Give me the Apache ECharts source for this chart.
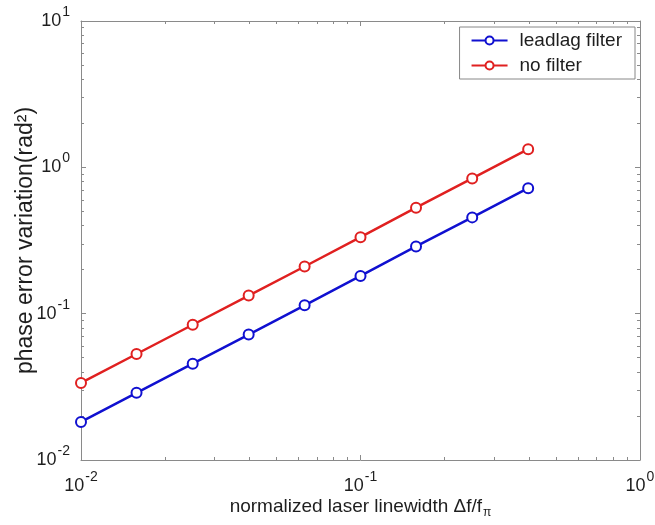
<!DOCTYPE html>
<html>
<head>
<meta charset="utf-8">
<script src="https://cdn.jsdelivr.net/npm/echarts@6/dist/echarts.min.js"></script>
<style>
  html, body { margin: 0; padding: 0; background: #fff; }
  #chart { width: 655px; height: 525px; }
</style>
</head>
<body>
<div id="chart"></div>
<script>
// Normalized laser linewidth (x) and phase error variation (y), log-log
const linewidth = [0.01, 0.0158, 0.0251, 0.0398, 0.0631, 0.1, 0.158, 0.251, 0.398];
const leadlagFilter = [0.0182, 0.0288, 0.0455, 0.072, 0.114, 0.181, 0.288, 0.455, 0.72];
const noFilter = [0.0336, 0.053, 0.084, 0.133, 0.21, 0.333, 0.53, 0.84, 1.33];
const seriesNames = ['leadlag filter', 'no filter'];

const FONT = '"Liberation Sans", Arial, Helvetica, sans-serif';
const AXIS_COLOR = '#8a8a8a';
const TEXT_COLOR = '#1e1e1e';

// Decade labels written as 10 with a raised exponent
function pow10Label(value) {
  const e = Math.round(Math.log10(value));
  return '{b|10}{s|' + e + '}';
}
const powRich = {
  b: { fontSize: 18, fontFamily: FONT, color: TEXT_COLOR },
  s: { fontSize: 14, fontFamily: FONT, color: TEXT_COLOR, verticalAlign: 'top', padding: [0, 0, 18, 1] }
};

const chart = echarts.init(document.getElementById('chart'));

function pairs(xs, ys) { return xs.map((x, i) => [x, ys[i]]); }

const axisCommon = {
  type: 'log',
  logBase: 10,
  axisLine: { show: true, lineStyle: { color: AXIS_COLOR, width: 1 } },
  axisTick: { show: true, inside: true, length: 5, lineStyle: { color: AXIS_COLOR } },
  minorTick: { show: true, splitNumber: 9, length: 3, lineStyle: { color: AXIS_COLOR } },
  splitLine: { show: false },
  minorSplitLine: { show: false }
};

chart.setOption({
  animation: false,
  backgroundColor: '#fff',
  grid: { left: 81, right: 15, top: 21, bottom: 65, containLabel: false, outerBoundsMode: 'none' },
  xAxis: [
    Object.assign({}, axisCommon, {
      min: 0.01, max: 1, position: 'bottom',
      axisLabel: { formatter: pow10Label, rich: powRich, margin: 10 },
      name: '{a|normalized laser linewidth Δf/f}{s|π}',
      nameLocation: 'middle', nameGap: 35, nameMoveOverlap: false,
      nameTextStyle: {
        rich: {
          a: { fontSize: 19, fontFamily: FONT, color: TEXT_COLOR },
          s: { fontSize: 12, fontFamily: FONT, color: TEXT_COLOR, verticalAlign: 'bottom', padding: [12, 0, 0, 1] }
        }
      }
    }),
    Object.assign({}, axisCommon, {
      min: 0.01, max: 1, position: 'top',
      axisLabel: { show: false }
    })
  ],
  yAxis: [
    Object.assign({}, axisCommon, {
      min: 0.01, max: 10, position: 'left',
      axisLabel: { formatter: pow10Label, rich: powRich, margin: 11 },
      name: 'phase error variation(rad²)',
      nameLocation: 'middle', nameGap: 44, nameRotate: 90, nameMoveOverlap: false,
      nameTextStyle: { fontSize: 23, fontFamily: FONT, color: TEXT_COLOR }
    }),
    Object.assign({}, axisCommon, {
      min: 0.01, max: 10, position: 'right',
      axisLabel: { show: false }
    })
  ],
  legend: {
    data: seriesNames,
    orient: 'vertical',
    right: 20, top: 27,
    padding: [4, 13, 4, 11],
    itemGap: 6,
    itemWidth: 36, itemHeight: 10,
    borderColor: '#888', borderWidth: 1,
    backgroundColor: '#fff',
    textStyle: { fontSize: 19, lineHeight: 19, fontFamily: FONT, color: TEXT_COLOR, padding: [0, 0, 0, 7] }
  },
  series: [
    {
      name: seriesNames[0], type: 'line',
      data: pairs(linewidth, leadlagFilter),
      color: '#1010d0',
      lineStyle: { width: 2.5, color: '#1010d0' },
      symbol: 'emptyCircle', symbolSize: 10,
      itemStyle: { color: '#1010d0', borderColor: '#1010d0', borderWidth: 2 }
    },
    {
      name: seriesNames[1], type: 'line',
      data: pairs(linewidth, noFilter),
      color: '#e02020',
      lineStyle: { width: 2.5, color: '#e02020' },
      symbol: 'emptyCircle', symbolSize: 10,
      itemStyle: { color: '#e02020', borderColor: '#e02020', borderWidth: 2 }
    }
  ]
});
</script>
</body>
</html>
